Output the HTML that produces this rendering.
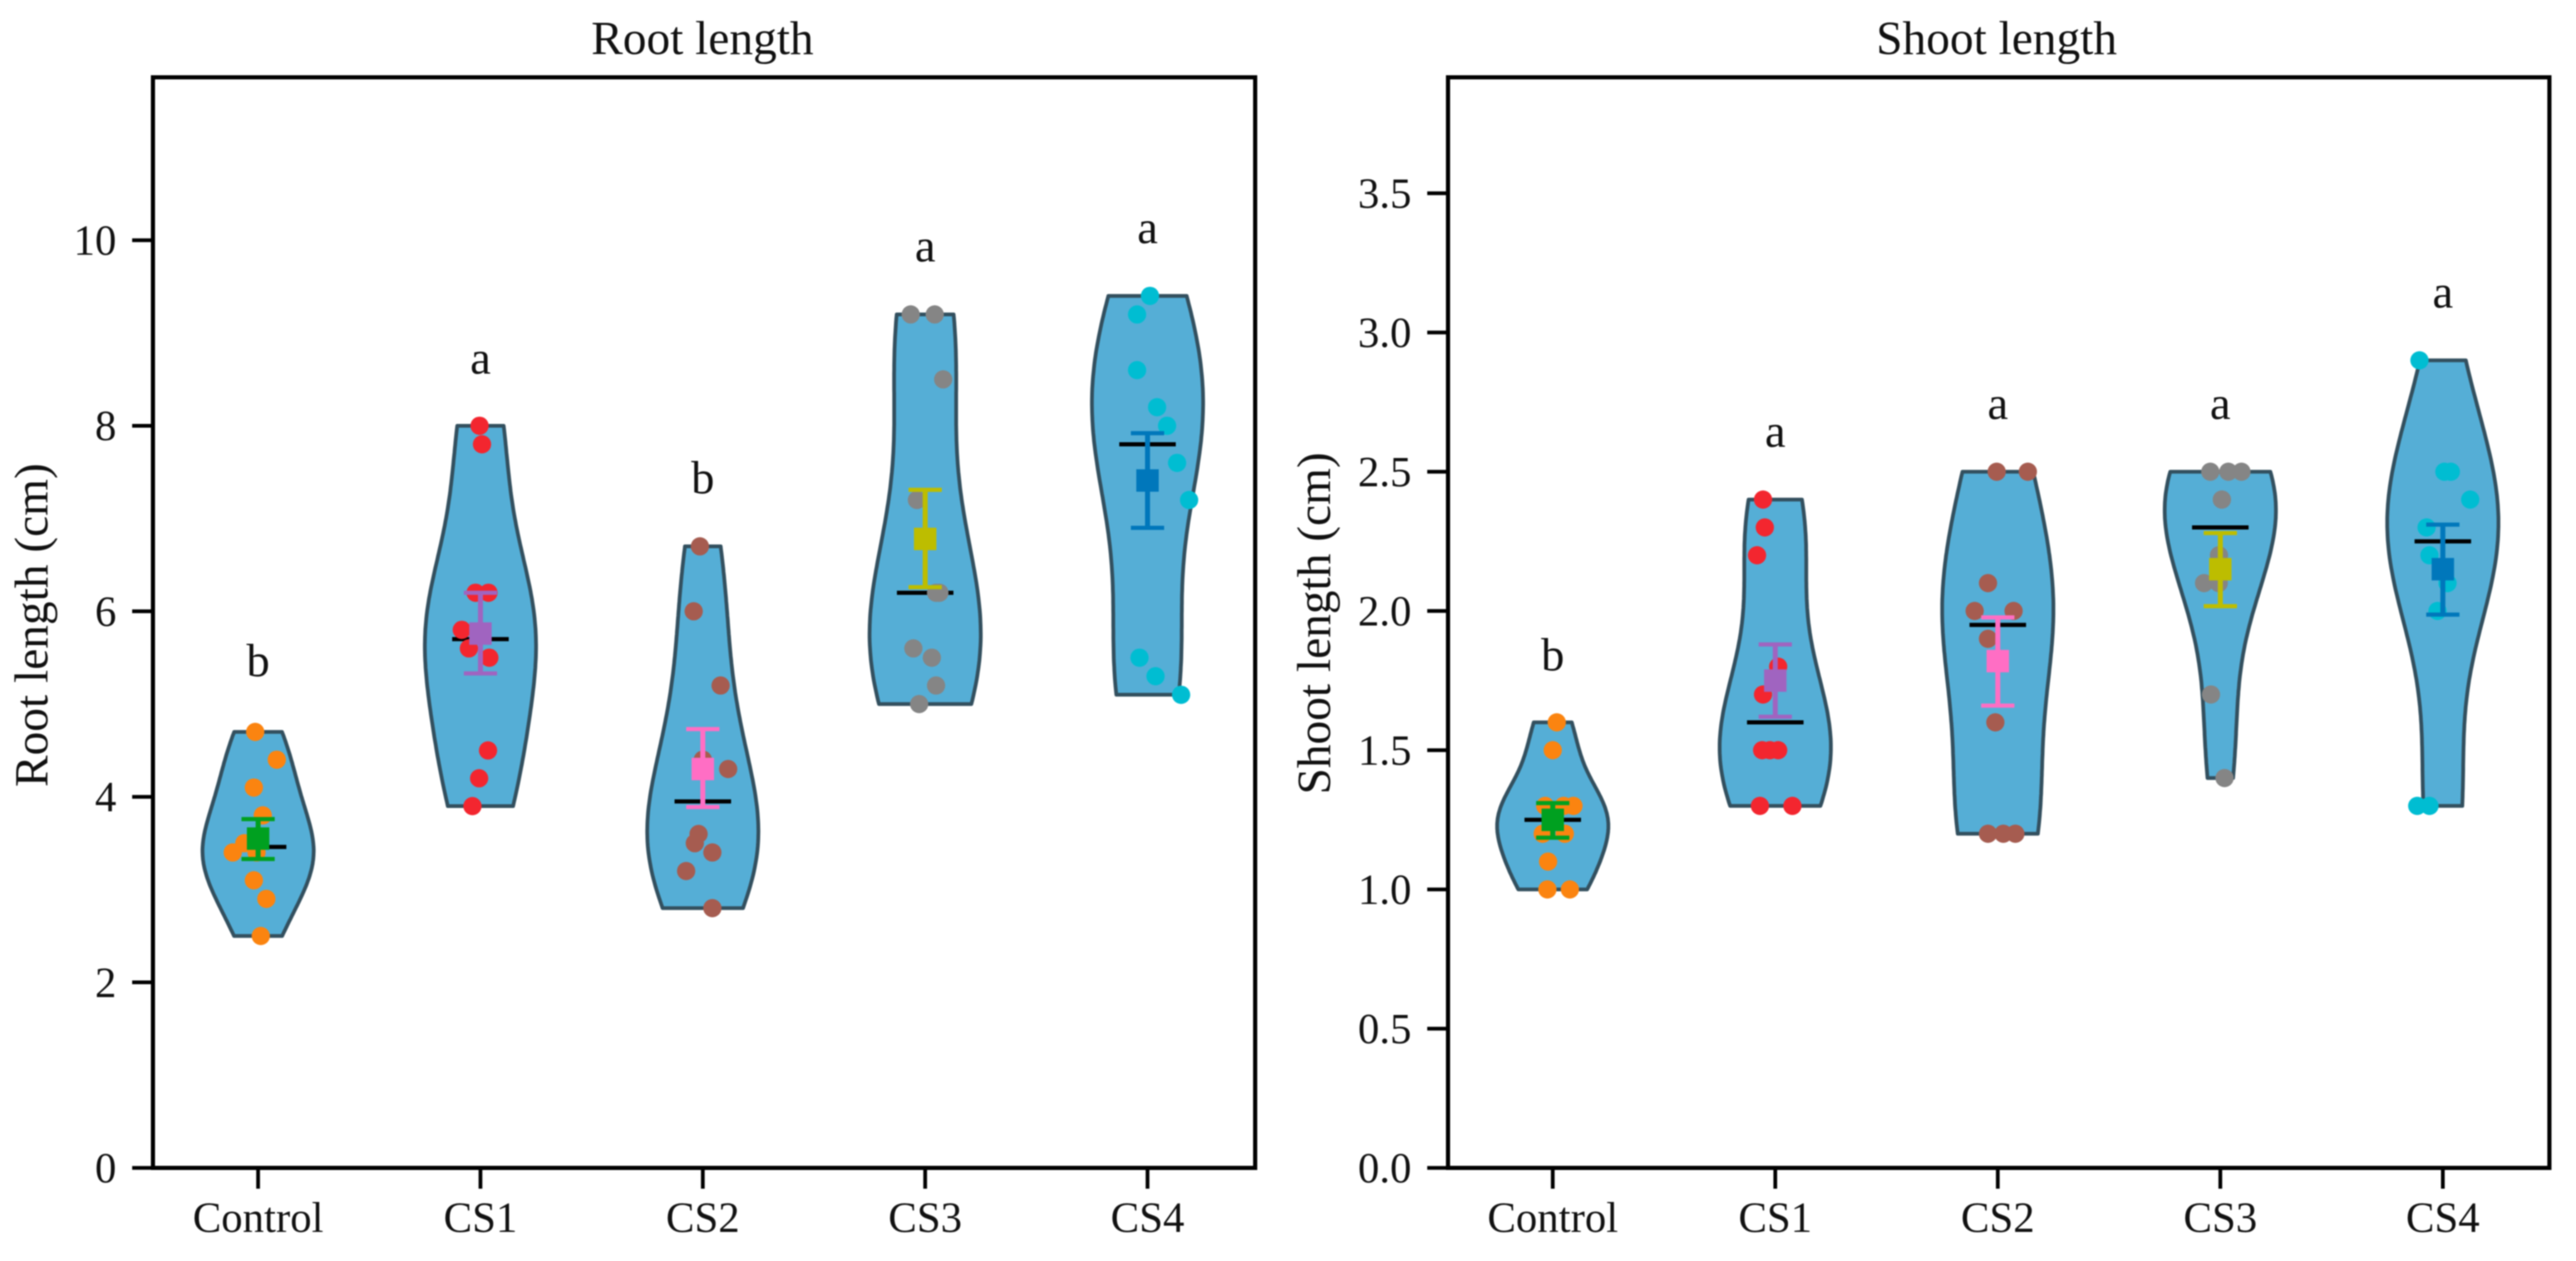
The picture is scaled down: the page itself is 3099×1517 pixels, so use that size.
<!DOCTYPE html>
<html lang="en">
<head>
<meta charset="utf-8">
<title>Root and shoot length violin plots</title>
<style>
html,body{margin:0;padding:0;background:#fff;width:3099px;height:1517px;overflow:hidden}
svg{display:block;filter:blur(0.9px)}
text{font-family:"Liberation Serif",serif;fill:#111}
</style>
</head>
<body>
<svg id="chart" xmlns="http://www.w3.org/2000/svg" width="3099" height="1517" viewBox="0 0 3099 1517">
  <rect x="0" y="0" width="3099" height="1517" fill="#fff"/>
  <g id="panel-root"></g>
  <g id="panel-shoot"></g>
  <text x="845" y="65" font-size="57" text-anchor="middle">Root length</text>
  <text x="2402" y="65" font-size="57" text-anchor="middle">Shoot length</text>
  <text transform="translate(57,752) rotate(-90)" font-size="57" text-anchor="middle">Root length (cm)</text>
  <text transform="translate(1600,750) rotate(-90)" font-size="57" text-anchor="middle">Shoot length (cm)</text>
</svg>
<script>
const categories = ['Control', 'CS1', 'CS2', 'CS3', 'CS4'];
const dotColors = ['#fb8410', '#f3262f', '#a65c50', '#858585', '#00bdd2'];
const markerColors = ['#00a020', '#a064c0', '#ff6ec4', '#bdbd00', '#0077bb'];

const rootTicks = ['0', '2', '4', '6', '8', '10'];
const rootValues = [
  [4.7, 4.4, 4.1, 3.8, 3.5, 3.4, 3.4, 3.1, 2.9, 2.5],
  [8, 7.8, 6.2, 6.2, 5.8, 5.6, 5.5, 4.5, 4.2, 3.9],
  [6.7, 6, 5.2, 4.4, 4.3, 3.6, 3.5, 3.4, 3.2, 2.8],
  [9.2, 9.2, 8.5, 7.2, 6.2, 6.2, 5.6, 5.5, 5.2, 5],
  [9.4, 9.2, 8.6, 8.2, 8, 7.6, 7.2, 5.5, 5.3, 5.1]
];
const rootJitter = [
  [-.013, .084, -.019, .021, -.062, -.114, -.007, -.019, .037, .012],
  [-.004, .007, -.022, .036, -.084, -.052, .04, .034, -.006, -.036],
  [-.013, -.041, .08, 0, .114, -.019, -.036, .043, -.075, .043],
  [-.065, .043, .081, -.037, .064, .049, -.053, .03, .049, -.027],
  [.011, -.047, -.047, .043, .088, .133, .187, -.036, .036, .151]
];
const rootMedians = [3.46, 5.7, 3.95, 6.2, 7.8];
const rootMeans = [3.55, 5.76, 4.3, 6.78, 7.41];
const rootErrTop = [3.76, 6.2, 4.73, 7.31, 7.92];
const rootErrBottom = [3.33, 5.33, 3.89, 6.26, 6.9];
const rootLetters = ['b', 'a', 'b', 'a', 'a'];
const rootLetterLevels = [5.3, 8.56, 7.27, 9.77, 9.97];

const shootTicks = ['0.0', '0.5', '1.0', '1.5', '2.0', '2.5', '3.0', '3.5'];
const shootValues = [
  [1.6, 1.5, 1.3, 1.3, 1.3, 1.2, 1.2, 1.1, 1, 1],
  [2.4, 2.3, 2.2, 1.8, 1.7, 1.5, 1.5, 1.5, 1.3, 1.3],
  [2.5, 2.5, 2.1, 2, 2, 1.9, 1.6, 1.2, 1.2, 1.2],
  [2.5, 2.5, 2.5, 2.4, 2.4, 2.2, 2.1, 2.1, 1.7, 1.4],
  [2.9, 2.5, 2.5, 2.4, 2.3, 2.2, 2.1, 2, 1.3, 1.3]
];
const shootJitter = [
  [.018, 0, -.034, .093, .049, -.045, .054, -.021, -.024, .077],
  [-.055, -.047, -.082, .013, -.055, -.059, -.024, .013, -.069, .077],
  [-.005, .135, -.044, -.104, .071, -.044, -.011, -.044, .025, .079],
  [-.045, .036, .095, .007, .007, -.006, -.073, -.007, -.042, .019],
  [-.105, .007, .036, .123, -.073, -.06, .021, -.024, -.115, -.06]
];
const shootMedians = [1.25, 1.6, 1.95, 2.3, 2.25];
const shootMeans = [1.25, 1.75, 1.82, 2.15, 2.15];
const shootErrTop = [1.31, 1.88, 1.977, 2.28, 2.31];
const shootErrBottom = [1.186, 1.62, 1.66, 2.017, 1.987];
const shootLetters = ['b', 'a', 'a', 'a', 'a'];
const shootLetterLevels = [1.786, 2.59, 2.69, 2.69, 3.09];

const SVGNS = 'http://www.w3.org/2000/svg';

function mk(parent, tag, attrs) {
  const node = document.createElementNS(SVGNS, tag);
  for (const key in attrs) node.setAttribute(key, attrs[key]);
  parent.appendChild(node);
  return node;
}

function kdeOutline(values, halfWidth, xCenter, yScale) {
  const n = values.length;
  const mean = values.reduce((a, b) => a + b, 0) / n;
  const variance = values.reduce((a, b) => a + (b - mean) * (b - mean), 0) / (n - 1);
  const bw = Math.pow(n, -0.2) * Math.sqrt(variance);
  const lo = Math.min(...values);
  const hi = Math.max(...values);
  const samples = [];
  for (let k = 0; k < 100; k++) {
    const v = lo + (hi - lo) * k / 99;
    let d = 0;
    for (const x of values) d += Math.exp(-0.5 * Math.pow((v - x) / bw, 2));
    samples.push([v, d]);
  }
  const peak = Math.max(...samples.map(s => s[1]));
  const right = samples.map(s => [xCenter + s[1] / peak * halfWidth, yScale(s[0])]);
  const left = samples.map(s => [xCenter - s[1] / peak * halfWidth, yScale(s[0])]).reverse();
  return 'M' + right.concat(left).map(p => p[0].toFixed(1) + ' ' + p[1].toFixed(1)).join('L') + 'Z';
}

function drawPanel(cfg) {
  const g = document.getElementById(cfg.id);
  const yScale = v => cfg.bottom - v * cfg.unit;
  const xScale = c => cfg.firstX + c * cfg.step;

  cfg.values.forEach((vals, i) => {
    const cx = xScale(i);
    const violin = mk(g, 'path', {
      d: kdeOutline(vals, cfg.step * 0.25, cx, yScale),
      fill: '#55aed6', stroke: '#33505f', 'stroke-width': 4.5, 'stroke-linejoin': 'round'
    });
    
    

    const medianLine = mk(g, 'line', {
      x1: cx - 34, x2: cx + 34, y1: yScale(cfg.medians[i]), y2: yScale(cfg.medians[i]),
      stroke: '#000', 'stroke-width': 5
    });
    
    

    vals.forEach((v, j) => {
      const dot = mk(g, 'circle', {
        cx: xScale(i + cfg.jitter[i][j]), cy: yScale(v), r: 11, fill: dotColors[i]
      });
      
      
    });

    const errStem = mk(g, 'line', {
      x1: cx, x2: cx, y1: yScale(cfg.errTop[i]), y2: yScale(cfg.errBottom[i]),
      stroke: markerColors[i], 'stroke-width': 6
    });
    
    

    [cfg.errTop[i], cfg.errBottom[i]].forEach(level => {
      const cap = mk(g, 'line', {
        x1: cx - 20, x2: cx + 20, y1: yScale(level), y2: yScale(level),
        stroke: markerColors[i], 'stroke-width': 5
      });
      
      
    });

    const marker = mk(g, 'rect', {
      x: cx - 13.5, y: yScale(cfg.means[i]) - 13.5, width: 27, height: 27, fill: markerColors[i]
    });
    
    

    const letter = mk(g, 'text', {
      x: cx, y: yScale(cfg.letterLevels[i]), 'font-size': 56, 'text-anchor': 'middle'
    });
    letter.textContent = cfg.letters[i];
    
    

    const xTick = mk(g, 'line', {
      x1: cx, x2: cx, y1: cfg.bottom, y2: cfg.bottom + 25, stroke: '#000', 'stroke-width': 4.5
    });
    
    

    const xLabel = mk(g, 'text', {
      x: cx, y: cfg.bottom + 77, 'font-size': 51.5, 'text-anchor': 'middle'
    });
    xLabel.textContent = categories[i];
    
    
  });

  cfg.ticks.forEach(t => {
    const y = yScale(parseFloat(t));
    const yTick = mk(g, 'line', {
      x1: cfg.left - 25, x2: cfg.left, y1: y, y2: y, stroke: '#000', 'stroke-width': 4.5
    });
    
    

    const yLabel = mk(g, 'text', {
      x: cfg.left - 44, y: y + 17.5, 'font-size': 51.5, 'text-anchor': 'end'
    });
    yLabel.textContent = t;
    
    
  });

  const frame = mk(g, 'rect', {
    x: cfg.left, y: cfg.top, width: cfg.right - cfg.left, height: cfg.bottom - cfg.top,
    fill: 'none', stroke: '#000', 'stroke-width': 5
  });
  
  
}

drawPanel({
  id: 'panel-root', left: 184, right: 1510, top: 93, bottom: 1405, unit: 111.6,
  firstX: 310.5, step: 267.5, ticks: rootTicks, values: rootValues, jitter: rootJitter,
  medians: rootMedians, means: rootMeans, errTop: rootErrTop, errBottom: rootErrBottom,
  letters: rootLetters, letterLevels: rootLetterLevels
});
drawPanel({
  id: 'panel-shoot', left: 1742, right: 3067, top: 93, bottom: 1405, unit: 335,
  firstX: 1868, step: 267.7, ticks: shootTicks, values: shootValues, jitter: shootJitter,
  medians: shootMedians, means: shootMeans, errTop: shootErrTop, errBottom: shootErrBottom,
  letters: shootLetters, letterLevels: shootLetterLevels
});
</script>
</body>
</html>
